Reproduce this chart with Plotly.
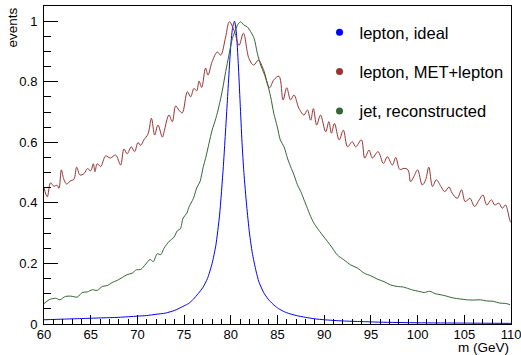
import plotly.graph_objects as go

# ---------------- data ----------------
red_m = [60.0, 60.35, 60.7, 61.05, 61.4, 61.6, 61.86, 62.1, 62.43, 62.8, 63.2, 63.5, 63.85, 64.3,
         64.64, 65.0, 65.28, 65.46, 65.7, 66.07, 66.6, 67.1, 67.67, 68.2, 68.56, 68.9, 69.35, 69.7,
         70.06, 70.35, 70.7, 71.14, 71.5, 71.85, 72.2, 72.67, 72.85, 73.38, 73.74, 74.1, 74.45,
         74.8, 75.35, 75.7, 76.06, 76.35, 76.6, 76.88, 77.3, 77.56, 78.0, 78.56, 78.92, 79.45,
         79.85, 80.4, 80.88, 81.35, 81.95, 82.45, 82.95, 83.5, 84.15, 84.6, 85.16, 85.6, 85.99,
         86.4, 86.77, 87.3, 87.84, 88.2, 88.55, 88.84, 89.2, 89.6, 90.16, 90.5, 90.77, 91.1, 91.6,
         92.05, 92.5, 93.0, 93.37, 93.98, 94.34, 94.8, 95.16, 95.76, 96.34, 96.76, 97.3, 97.66,
         98.1, 98.54, 98.97, 99.25, 99.6, 100.0, 100.5, 100.86, 101.2, 101.6, 102.0, 102.5, 102.9,
         103.36, 103.7, 104.25, 104.7, 105.1, 105.6, 106.1, 106.6, 107.0, 107.4, 107.9, 108.25,
         108.7, 109.07, 109.4, 109.9, 110.0]
red_v = [0.45, 0.42, 0.466, 0.455, 0.458, 0.448, 0.509, 0.48, 0.462, 0.472, 0.478, 0.518, 0.492, 0.497,
         0.513, 0.506, 0.529, 0.503, 0.529, 0.52, 0.555, 0.548, 0.558, 0.525, 0.578, 0.562, 0.585, 0.569,
         0.599, 0.59, 0.608, 0.628, 0.679, 0.624, 0.657, 0.617, 0.634, 0.69, 0.668, 0.72, 0.706,
         0.697, 0.767, 0.75, 0.778, 0.77, 0.802, 0.781, 0.845, 0.822, 0.866, 0.898, 0.888, 0.948,
         0.998, 0.965, 0.92, 0.96, 0.876, 0.855, 0.871, 0.84, 0.78, 0.806, 0.818, 0.74, 0.78,
         0.74, 0.756, 0.712, 0.69, 0.707, 0.673, 0.711, 0.657, 0.69, 0.635, 0.668, 0.63, 0.662, 0.608,
         0.64, 0.585, 0.602, 0.585, 0.608, 0.548, 0.574, 0.548, 0.569, 0.53, 0.552, 0.525, 0.55,
         0.51, 0.514, 0.509, 0.47, 0.487, 0.509, 0.459, 0.476, 0.518, 0.454, 0.476, 0.454, 0.437,
         0.452, 0.432, 0.415, 0.443, 0.404, 0.415, 0.388, 0.41, 0.426, 0.393, 0.41, 0.393,
         0.399, 0.382, 0.393, 0.34, 0.335]

green_m = [60.0, 60.54, 61.25, 61.7, 62.3, 62.86, 63.57, 64.1, 64.64, 65.17, 65.7, 66.25, 66.8, 67.3,
           67.85, 68.4, 68.9, 69.45, 69.9, 70.35, 70.9, 71.35, 71.7, 72.13, 72.5, 72.85, 73.4, 73.9,
           74.28, 74.6, 74.9, 75.3, 75.5, 76.0, 76.35, 76.7, 77.06, 77.3, 77.67, 78.0, 78.4, 78.74,
           79.1, 79.45, 79.8, 80.17, 80.5, 80.77, 81.06, 81.4, 81.77, 82.13, 82.5, 82.84, 83.2, 83.55,
           83.9, 84.27, 84.6, 84.98, 85.3, 85.7, 86.06, 86.4, 86.77, 87.13, 87.5, 87.84, 88.2, 88.55,
           88.9, 89.27, 89.8, 90.34, 90.87, 91.4, 92.1, 92.84, 93.55, 94.27, 95.0, 95.7, 96.4, 97.1,
           97.8, 98.5, 98.8, 99.5, 100.1, 100.7, 101.3, 101.9, 102.4, 103.1, 103.8, 104.5, 105.25,
           106.0, 106.7, 107.4, 108.1, 108.8, 109.4, 109.9]
green_v = [0.067, 0.08, 0.085, 0.08, 0.091, 0.092, 0.089, 0.104, 0.106, 0.113, 0.111, 0.124, 0.127, 0.137,
           0.144, 0.154, 0.163, 0.168, 0.179, 0.18, 0.198, 0.213, 0.206, 0.232, 0.229, 0.25, 0.273, 0.286,
           0.308, 0.314, 0.35, 0.366, 0.385, 0.415, 0.449, 0.47, 0.52, 0.547, 0.597, 0.64, 0.679, 0.72,
           0.772, 0.833, 0.888, 0.943, 0.97, 0.99, 0.998, 0.987, 0.981, 0.965, 0.943, 0.894, 0.855, 0.828,
           0.795, 0.75, 0.696, 0.651, 0.608, 0.585, 0.548, 0.52, 0.492, 0.46, 0.437, 0.41, 0.382, 0.355,
           0.333, 0.316, 0.294, 0.273, 0.251, 0.228, 0.212, 0.195, 0.185, 0.168, 0.159, 0.148, 0.14, 0.129,
           0.124, 0.122, 0.119, 0.112, 0.108, 0.104, 0.108, 0.1, 0.097, 0.092, 0.086, 0.083, 0.08,
           0.079, 0.08, 0.076, 0.075, 0.069, 0.068, 0.064]

blue_m = [60.0, 62.0, 64.0, 66.0, 68.0, 70.0, 71.0, 72.0, 73.0, 74.0, 75.0, 75.5, 76.0, 76.5, 77.0,
          77.5, 78.0, 78.4, 78.8, 79.2, 79.6, 80.0, 80.2, 80.4, 80.6, 80.8, 81.0, 81.2, 81.4, 81.7,
          82.0, 82.3, 82.7, 83.0, 83.5, 84.0, 84.5, 85.0, 85.5, 86.0, 87.0, 88.0, 89.0, 90.0, 92.0,
          94.0, 96.0, 100.0, 105.0, 110.0]
blue_v = [0.014, 0.016, 0.018, 0.02, 0.022, 0.026, 0.028, 0.032, 0.036, 0.045, 0.06, 0.068, 0.082, 0.1, 0.12,
          0.15, 0.2, 0.26, 0.36, 0.52, 0.72, 0.92, 0.98, 1.0, 0.96, 0.86, 0.73, 0.6, 0.5, 0.39,
          0.3, 0.235, 0.175, 0.14, 0.105, 0.082, 0.066, 0.053, 0.044, 0.037, 0.028, 0.022, 0.017, 0.014, 0.01,
          0.008, 0.006, 0.004, 0.003, 0.002]

names = ["lepton, ideal", "lepton, MET+lepton", "jet, reconstructed"]
colors = ["#0000ff", "#993333", "#336633"]

x_ticks = [60, 65, 70, 75, 80, 85, 90, 95, 100, 105, 110]
y_ticks = [0, 0.2, 0.4, 0.6, 0.8, 1]

FONT = "Liberation Sans, Arial, Helvetica, sans-serif"

fig = go.Figure()
fig.add_trace(go.Scatter(x=blue_m, y=blue_v, mode="lines", showlegend=False,
                         line=dict(color=colors[0], width=1, shape="spline", smoothing=0.6)))
fig.add_trace(go.Scatter(x=red_m, y=red_v, mode="lines", showlegend=False,
                         line=dict(color=colors[1], width=1, shape="spline", smoothing=1.0)))
fig.add_trace(go.Scatter(x=green_m, y=green_v, mode="lines", showlegend=False,
                         line=dict(color=colors[2], width=1, shape="spline", smoothing=0.8)))

for i, (n, c) in enumerate(zip(names, colors)):
    fig.add_trace(go.Scatter(x=[None], y=[None], mode="markers", name=n, legendgroup=f"g{i}",
                             marker=dict(color=c, size=7)))

fig.update_layout(
    width=521, height=355,
    margin=dict(l=44, r=10, t=6, b=31, pad=0, autoexpand=False),
    paper_bgcolor="white", plot_bgcolor="white",
    font=dict(family=FONT, size=13, color="black"),
    showlegend=True,
    legend=dict(x=0.59, y=0.972, xanchor="left", yanchor="top", bgcolor="rgba(0,0,0,0)",
                font=dict(size=16.5), tracegroupgap=15, itemwidth=30),
    xaxis=dict(range=[60, 110], tickvals=x_ticks, ticks="inside", ticklen=9, tickcolor="black",
               tickwidth=1, showline=True, linecolor="black", linewidth=1, mirror=True,
               showgrid=False, zeroline=False, tickfont=dict(size=13), ticklabeloverflow="allow",
               ticklabelstandoff=-2, automargin=False,
               minor=dict(dtick=1, ticks="inside", ticklen=5, tickcolor="black", showgrid=False)),
    yaxis=dict(range=[0, 1.05], tickvals=y_ticks, ticks="inside", ticklen=14, tickcolor="black",
               tickwidth=1, showline=True, linecolor="black", linewidth=1, mirror=True,
               showgrid=False, zeroline=False, tickfont=dict(size=13), automargin=False,
               ticklabelstandoff=3,
               minor=dict(dtick=0.05, ticks="inside", ticklen=7, tickcolor="black", showgrid=False)),
    annotations=[
        dict(text="m (GeV)", xref="paper", yref="paper", x=1.0, y=-0.073, xanchor="right",
             yanchor="middle", showarrow=False, font=dict(size=13.5)),
        dict(text="events", xref="paper", yref="paper", x=-0.0675, y=1.003, xanchor="center",
             yanchor="top", textangle=-90, showarrow=False, font=dict(size=13.5)),
    ],
)

fig.write_html("out.html")
